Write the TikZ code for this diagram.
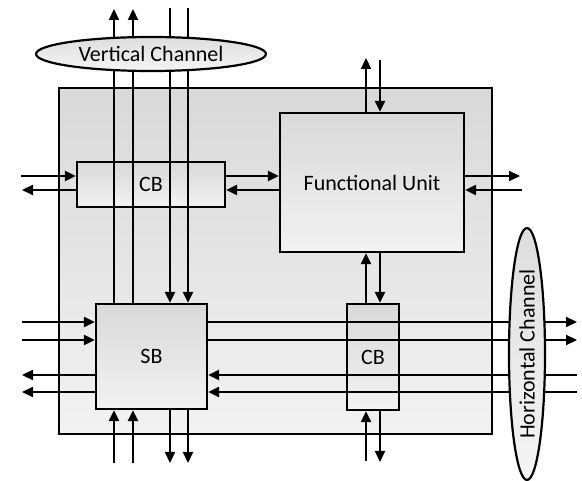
\documentclass[tikz,border=0pt]{standalone}
\usepackage{fontspec}
\setmainfont{Carlito}
\usetikzlibrary{shapes.geometric, arrows.meta}

\begin{document}
\begin{tikzpicture}[x=1pt, y=-1pt, >={Triangle[length=11pt,width=10pt]},
  line width=2.2pt,
  font=\fontsize{22}{26}\selectfont,
  box/.style={draw, rectangle, line width=2.2pt, top color=black!15, bottom color=black!5,
    inner sep=0pt},
  chan/.style={draw, ellipse, line width=2.2pt, top color=black!13, bottom color=black!4,
    inner sep=0pt}]

      \useasboundingbox (0,0) rectangle (582,481);

      % Logic tile
      \node[box, minimum width=433pt, minimum height=346pt] (tile) at (275.5,261) {};

      % Blocks inside the tile
      \node[box, minimum width=148pt, minimum height=45pt] (cb1) at (151,184.5) {CB};
      \node[box, minimum width=184pt, minimum height=139pt] (fu) at (372,182.5) {Functional Unit};
      \node[box, minimum width=52pt, minimum height=106pt] (cb2) at (373,357) {CB};
      \node[box, minimum width=111pt, minimum height=105pt] (sb) at (151.5,356.5) {SB};

      % Free ends of the tracks
      \coordinate (t1) at (114,9);   \coordinate (t2) at (133,9);
      \coordinate (t3) at (170,8);   \coordinate (t4) at (188,8);
      \coordinate (b1) at (114,463); \coordinate (b2) at (133,463);
      \coordinate (b3) at (170,463); \coordinate (b4) at (188,463);
      \coordinate (l1) at (22,322);  \coordinate (l2) at (22,340);
      \coordinate (l3) at (22,375);  \coordinate (l4) at (22,392);
      \coordinate (r1) at (577,322); \coordinate (r2) at (577,340);
      \coordinate (r3) at (577,375); \coordinate (r4) at (577,392);

      % Vertical tracks
      \foreach \c in {t1,t2}
      \draw[->] (\c |- sb.north) -- (\c);
      \foreach \c in {t3,t4}
      \draw[->] (\c) -- (\c |- sb.north);
      \foreach \c in {b1,b2}
      \draw[->] (\c) -- (\c |- sb.south);
      \foreach \c in {b3,b4}
      \draw[->] (\c |- sb.south) -- (\c);

      % Horizontal tracks
      \foreach \c in {l1,l2}
      \draw[->] (\c) -- (\c -| sb.west);
      \foreach \c in {l3,l4}
      \draw[->] (\c -| sb.west) -- (\c);
      \foreach \c in {r1,r2}
      \draw[->] (\c -| sb.east) -- (\c);
      \foreach \c in {r3,r4}
      \draw[->] (\c) -- (\c -| sb.east);

      % Connection box and functional unit links
      \coordinate (a1) at (21,176);  \coordinate (a2) at (22,190);
      \coordinate (e1) at (520,176); \coordinate (e2) at (522,190);
      \coordinate (f1) at (366,58);  \coordinate (f2) at (380,60);
      \coordinate (g1) at (366,461); \coordinate (g2) at (380,462);

      \draw[->] (a1) -- (a1 -| cb1.west);
      \draw[->] (a2 -| cb1.west) -- (a2);
      \draw[->] (a1 -| cb1.east) -- (a1 -| fu.west);
      \draw[->] (a2 -| fu.west) -- (a2 -| cb1.east);
      \draw[->] (e1 -| fu.east) -- (e1);
      \draw[->] (e2) -- (e2 -| fu.east);

      \draw[->] (f1 |- fu.north) -- (f1);
      \draw[->] (f2) -- (f2 |- fu.north);
      \draw[->] (f1 |- cb2.north) -- (f1 |- fu.south);
      \draw[->] (f2 |- fu.south) -- (f2 |- cb2.north);
      \draw[->] (g1) -- (g1 |- cb2.south);
      \draw[->] (g2 |- cb2.south) -- (g2);

      % Routing channels
      \node[chan, minimum width=230pt, minimum height=34pt] (vch) at (151,54) {Vertical Channel};
      \node[chan, rotate=90, minimum width=252pt, minimum height=36pt] (hch) at (527,354) {Horizontal Channel};

\end{tikzpicture}
\end{document}
